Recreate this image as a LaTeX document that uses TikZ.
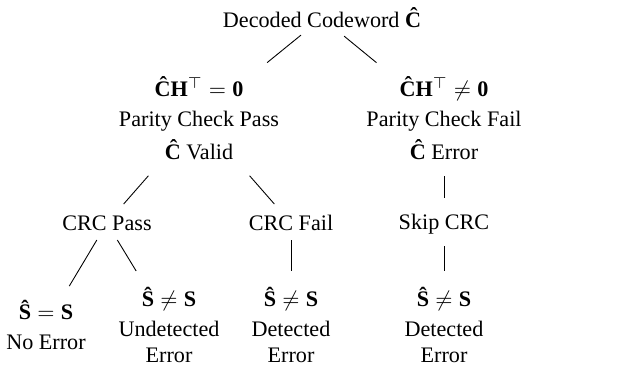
\documentclass[tikz,border=0pt]{standalone}
\usepackage{fontspec}
\setmainfont{Liberation Serif}
\newdimen\unitpx
\unitpx=0.4513pt
% bold letters with a circumflex, taken precomposed from the text font
\newcommand{\Chat}{\mbox{\textbf{Ĉ}}}
\newcommand{\Shat}{\mbox{\textbf{Ŝ}}}
\tikzset{
  lbl/.style={align=center, inner sep=2pt, font=\fontsize{10}{12}\selectfont},
  link/.style={line width=0.4pt},
}
\begin{document}
\begin{tikzpicture}[x=0.4513pt, y=-0.4513pt]
\useasboundingbox (0,0) rectangle (633,369);
% root
\node[lbl] (root) at (322,18) {Decoded Codeword $\Chat$};
% parity check outcomes
\node[lbl] (pass) at (199,118) {$\Chat\mathbf{H}^{\top}=\mathbf{0}$\\[1.5pt]Parity Check Pass\\[3pt]$\Chat$ Valid};
\node[lbl] (fail) at (444,118) {$\Chat\mathbf{H}^{\top}\neq\mathbf{0}$\\[1.5pt]Parity Check Fail\\[3pt]$\Chat$ Error};
% CRC stage
\node[lbl] (crcpass) at (107,223) {CRC Pass};
\node[lbl] (crcfail) at (291,223) {CRC Fail};
\node[lbl] (skip) at (444,224) {Skip CRC};
% final outcomes
\node[lbl] (noerr) at (46,325) {$\Shat=\mathbf{S}$\\[1.5pt]No Error};
\node[lbl] (undet) at (169,325) {$\Shat\neq\mathbf{S}$\\[1.5pt]Undetected\\Error};
\node[lbl] (det1) at (291,325) {$\Shat\neq\mathbf{S}$\\[1.5pt]Detected\\Error};
\node[lbl] (det2) at (444,325) {$\Shat\neq\mathbf{S}$\\[1.5pt]Detected\\Error};
% branches
\draw[link, shorten <=27.1*\unitpx, shorten >=87.8*\unitpx] (root.center) -- (pass.center);
\draw[link, shorten <=28.6*\unitpx, shorten >=87.3*\unitpx] (root.center) -- (fail.center);
\draw[link, shorten <=76.8*\unitpx, shorten >=25.2*\unitpx] (pass.center) -- (crcpass.center);
\draw[link, shorten <=76.8*\unitpx, shorten >=25.2*\unitpx] (pass.center) -- (crcfail.center);
\draw[link, shorten <=58*\unitpx, shorten >=26*\unitpx] (fail.center) -- (skip.center);
\draw[link, shorten <=19.8*\unitpx, shorten >=45.4*\unitpx] (crcpass.center) -- (noerr.center);
\draw[link, shorten <=19.9*\unitpx, shorten >=63.2*\unitpx] (crcpass.center) -- (undet.center);
\draw[link, shorten <=17*\unitpx, shorten >=54*\unitpx] (crcfail.center) -- (det1.center);
\draw[link, shorten <=22*\unitpx, shorten >=54*\unitpx] (skip.center) -- (det2.center);
\end{tikzpicture}
\end{document}
